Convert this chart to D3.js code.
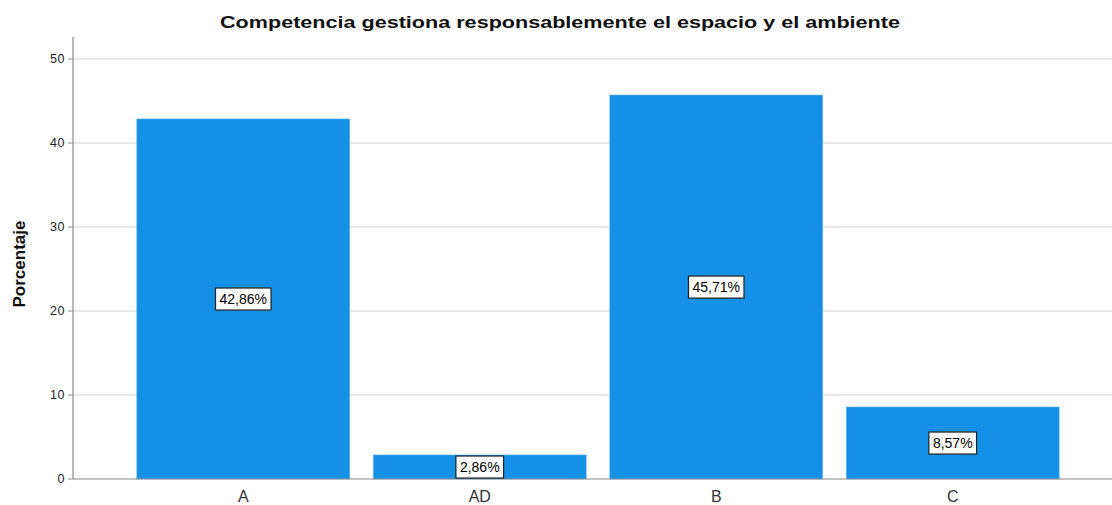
<!DOCTYPE html>
<html><head><meta charset="utf-8">
<script src="https://cdn.jsdelivr.net/npm/d3@7"></script>
<style>body{margin:0;background:#fff}svg{display:block}</style>
</head><body>
<svg id="c" width="1112" height="505"></svg>
<script>
const categories = ["A", "AD", "B", "C"];
const values = [42.86, 2.86, 45.71, 8.57];
const labels = ["42,86%", "2,86%", "45,71%", "8,57%"];
const yTicks = [0, 10, 20, 30, 40, 50];
const title = "Competencia gestiona responsablemente el espacio y el ambiente";
const yTitle = "Porcentaje";

const svg = d3.select("#c");
const x0 = 73, x1 = 1123, yBase = 479;
const y = d3.scaleLinear().domain([0, 50]).range([yBase, 59]);
const x = d3.scaleBand().domain(categories).range([x0, x1]).paddingInner(0.1).paddingOuter(0.27);

// grid
svg.append("g").selectAll("line").data(yTicks.filter(d => d > 0)).join("line")
  .attr("x1", x0).attr("x2", 1112).attr("y1", d => y(d)).attr("y2", d => y(d))
  .attr("stroke", "#d2d2d2").attr("stroke-width", 1);

// bars
svg.append("g").selectAll("rect").data(values).join("rect")
  .attr("x", (d, i) => x(categories[i])).attr("width", x.bandwidth())
  .attr("y", d => y(d)).attr("height", d => yBase - y(d))
  .attr("fill", "#1490e6").attr("stroke", "#5aaeee").attr("stroke-width", 0.6);

// axes
svg.append("line").attr("x1", x0).attr("x2", x0).attr("y1", 37).attr("y2", yBase)
  .attr("stroke", "#8a8a8a").attr("stroke-width", 1.2);
svg.append("line").attr("x1", x0).attr("x2", 1112).attr("y1", yBase).attr("y2", yBase)
  .attr("stroke", "#8a8a8a").attr("stroke-width", 1.2);

const yt = svg.append("g");
yt.selectAll("line").data(yTicks).join("line")
  .attr("x1", x0 - 5).attr("x2", x0).attr("y1", d => y(d)).attr("y2", d => y(d))
  .attr("stroke", "#8a8a8a");
yt.selectAll("text").data(yTicks).join("text")
  .attr("x", x0 - 8).attr("y", d => y(d)).attr("dy", "0.35em")
  .attr("text-anchor", "end").attr("font-family", "Liberation Sans, Arial, sans-serif")
  .attr("font-size", 12.5).attr("letter-spacing", 0.5).attr("fill", "#222").text(d => d);

svg.append("g").selectAll("text").data(categories).join("text")
  .attr("x", d => x(d) + x.bandwidth() / 2).attr("y", 502)
  .attr("text-anchor", "middle").attr("font-family", "Liberation Sans, Arial, sans-serif")
  .attr("font-size", 16).attr("fill", "#333").text(d => d);

// value labels
const lg = svg.append("g").selectAll("g").data(values).join("g")
  .attr("transform", (d, i) => `translate(${x(categories[i]) + x.bandwidth() / 2},${y(d / 2)})`);
lg.append("text").attr("text-anchor", "middle").attr("dy", "0.36em")
  .attr("font-family", "Liberation Sans, Arial, sans-serif").attr("font-size", 14).attr("fill", "#000")
  .text((d, i) => labels[i]);
lg.each(function() {
  const g = d3.select(this), b = g.select("text").node().getBBox();
  g.insert("rect", "text").attr("x", b.x - 4).attr("y", b.y - 3).attr("width", b.width + 8).attr("height", b.height + 6)
    .attr("fill", "#fff").attr("stroke", "#222").attr("stroke-width", 1.2);
});

svg.append("text").attr("x", 220).attr("y", 28)
  .attr("font-family", "Liberation Sans, Arial, sans-serif").attr("font-weight", "bold")
  .attr("font-size", 16.5).attr("textLength", 680).attr("lengthAdjust", "spacingAndGlyphs")
  .attr("fill", "#111").text(title);

svg.append("text").attr("transform", "translate(25,264) rotate(-90)").attr("text-anchor", "middle")
  .attr("font-family", "Liberation Sans Narrow, Arial Narrow, sans-serif").attr("font-weight", "bold")
  .attr("font-size", 17).attr("fill", "#111").text(yTitle);
</script>
</body></html>
